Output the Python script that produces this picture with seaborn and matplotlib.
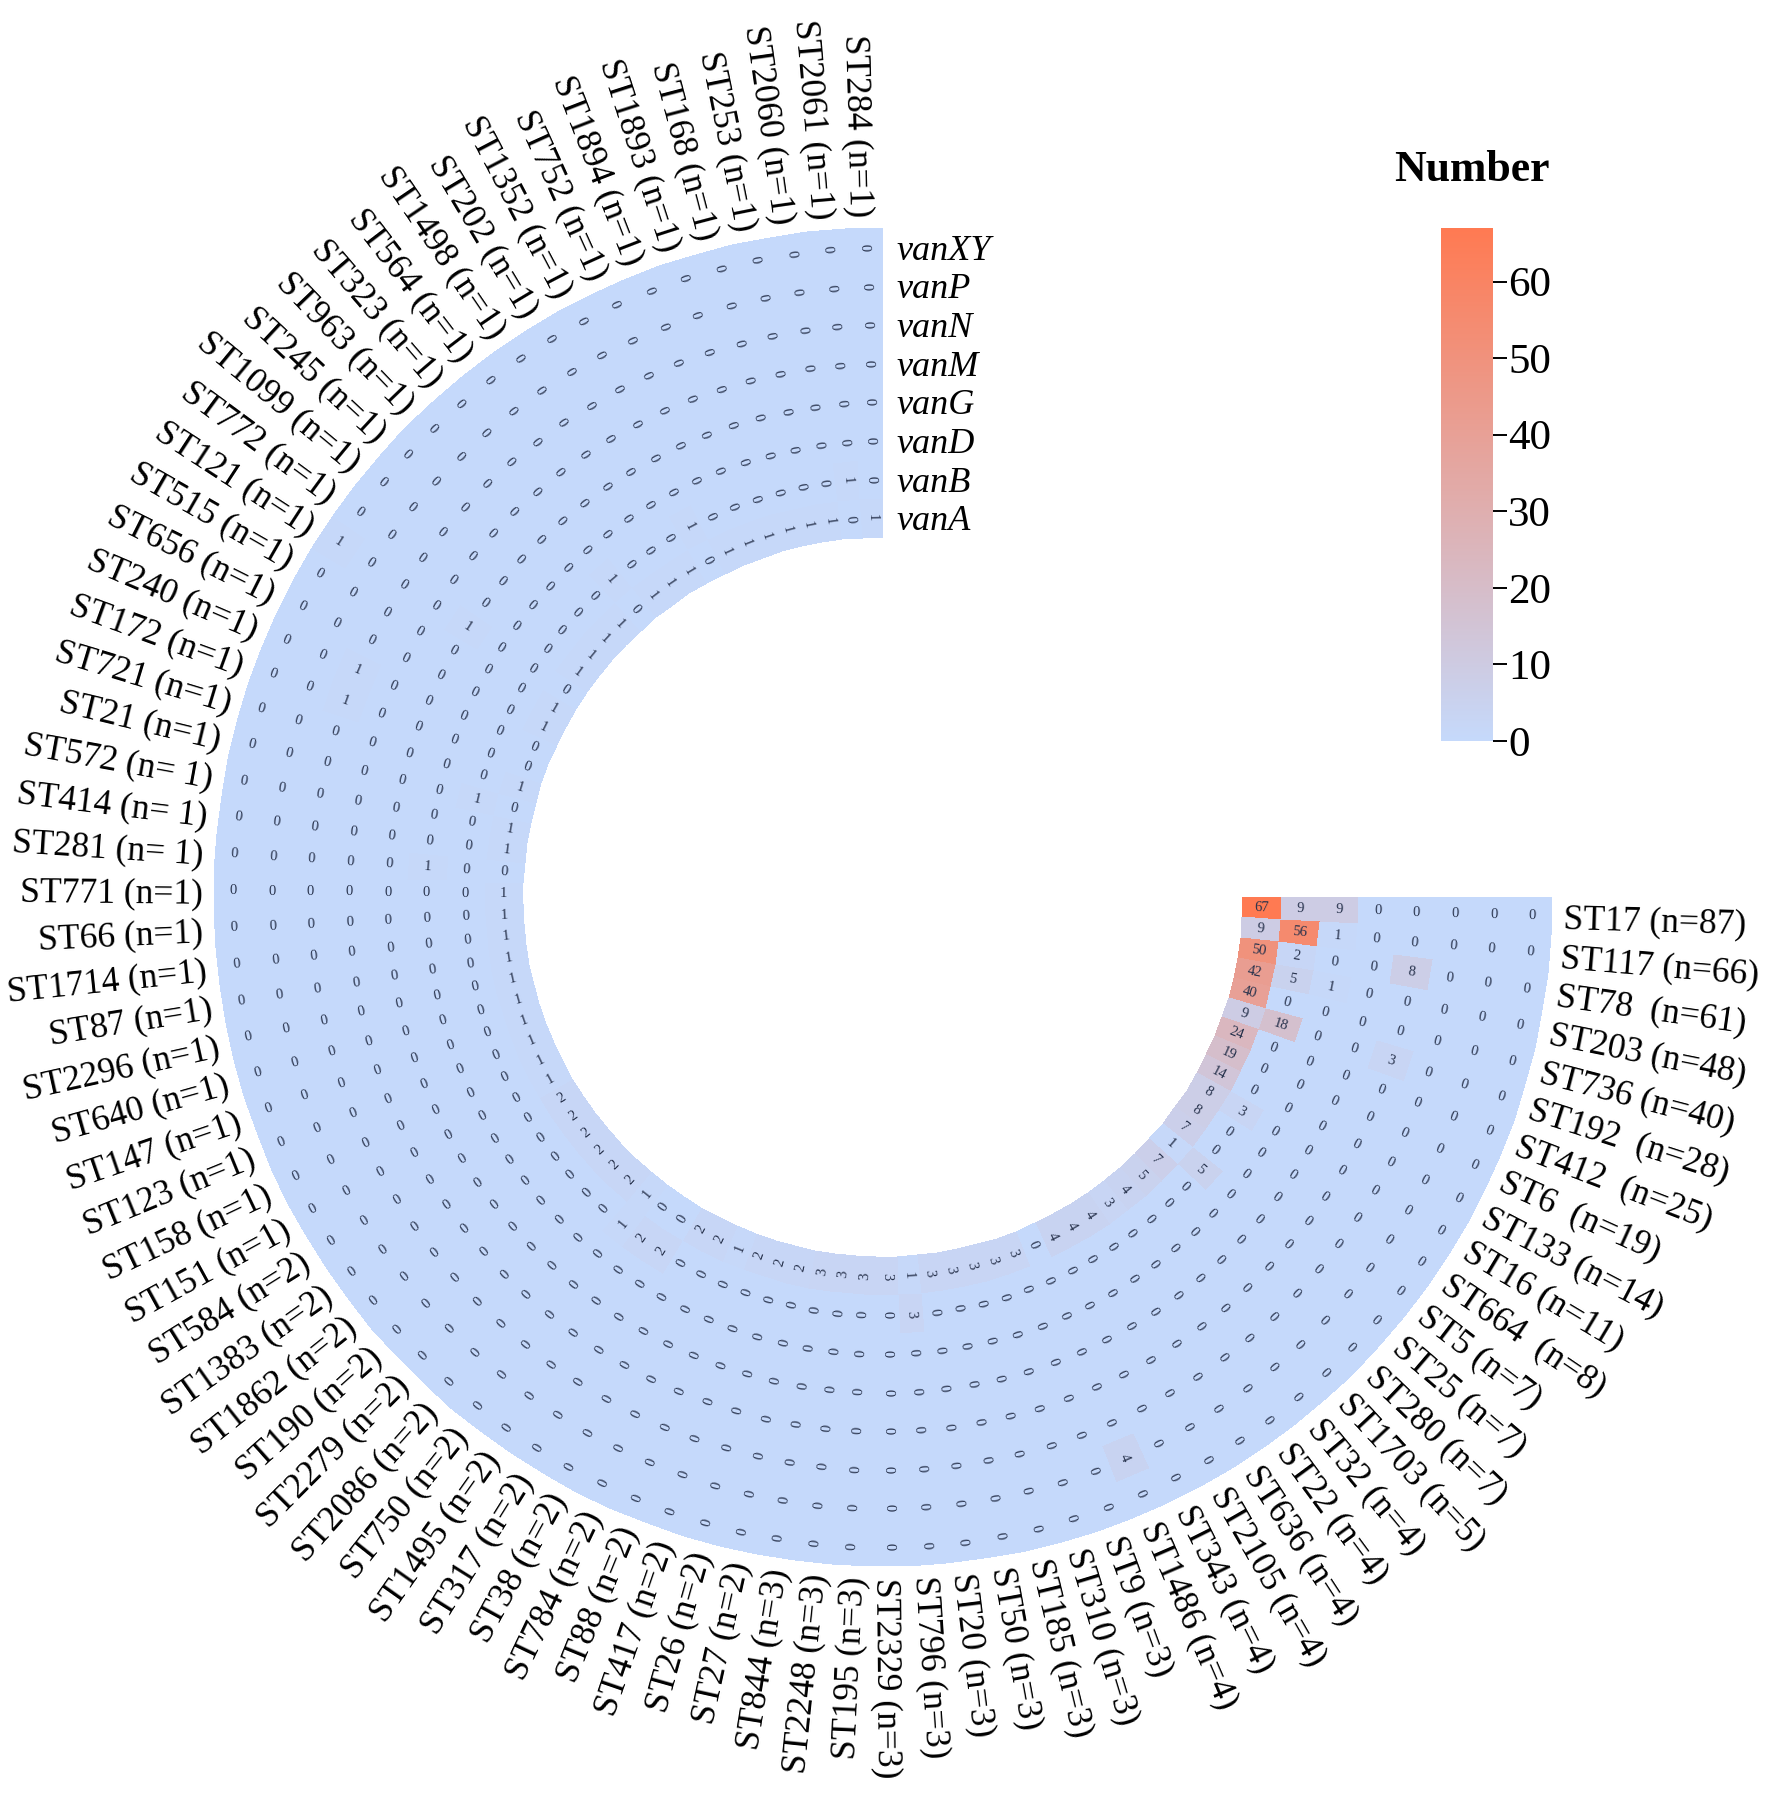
import numpy as np
import pandas as pd
import matplotlib
matplotlib.use('Agg')
import matplotlib.pyplot as plt
import matplotlib.transforms as mtransforms
from matplotlib.colors import LinearSegmentedColormap
import seaborn as sns

st_labels = [
    'ST17 (n=87)', 'ST117 (n=66)', 'ST78  (n=61)', 'ST203 (n=48)', 'ST736 (n=40)',
    'ST192  (n=28)', 'ST412  (n=25)', 'ST6  (n=19)', 'ST133 (n=14)', 'ST16 (n=11)',
    'ST664  (n=8)', 'ST5 (n=7)', 'ST25 (n=7)', 'ST280 (n=7)', 'ST1703 (n=5)',
    'ST32 (n=4)', 'ST22 (n=4)', 'ST636 (n=4)', 'ST2105 (n=4)', 'ST343 (n=4)',
    'ST1486 (n=4)', 'ST9 (n=3)', 'ST310 (n=3)', 'ST185 (n=3)', 'ST50 (n=3)',
    'ST20 (n=3)', 'ST796 (n=3)', 'ST2329 (n=3)', 'ST195 (n=3)', 'ST2248 (n=3)',
    'ST844 (n=3)', 'ST27 (n=2)', 'ST26 (n=2)', 'ST417 (n=2)', 'ST88 (n=2)',
    'ST784 (n=2)', 'ST38 (n=2)', 'ST317 (n=2)', 'ST1495 (n=2)', 'ST750 (n=2)',
    'ST2086 (n=2)', 'ST2279 (n=2)', 'ST190 (n=2)', 'ST1862 (n=2)', 'ST1383 (n=2)',
    'ST584 (n=2)', 'ST151 (n=1)', 'ST158 (n=1)', 'ST123 (n=1)', 'ST147 (n=1)',
    'ST640 (n=1)', 'ST2296 (n=1)', 'ST87 (n=1)', 'ST1714 (n=1)', 'ST66 (n=1)',
    'ST771 (n=1)', 'ST281 (n= 1)', 'ST414 (n= 1)', 'ST572 (n= 1)', 'ST21 (n=1)',
    'ST721 (n=1)', 'ST172 (n=1)', 'ST240 (n=1)', 'ST656 (n=1)', 'ST515 (n=1)',
    'ST121 (n=1)', 'ST772 (n=1)', 'ST1099 (n=1)', 'ST245 (n=1)', 'ST963 (n=1)',
    'ST323 (n=1)', 'ST564 (n=1)', 'ST1498 (n=1)', 'ST202 (n=1)', 'ST1352 (n=1)',
    'ST752 (n=1)', 'ST1894 (n=1)', 'ST1893 (n=1)', 'ST168 (n=1)', 'ST253 (n=1)',
    'ST2060 (n=1)', 'ST2061 (n=1)', 'ST284 (n=1)',
]

genes = ['vanA', 'vanB', 'vanD', 'vanG', 'vanM', 'vanN', 'vanP', 'vanXY']

van_a = [67, 9, 50, 42, 40, 9, 24, 19, 14, 8,
         8, 7, 1, 7, 5, 4, 3, 4, 4, 4,
         0, 3, 3, 3, 3, 3, 1, 3, 3, 3,
         3, 2, 2, 2, 1, 2, 2, 0, 0, 1,
         2, 2, 2, 2, 2, 2, 1, 1, 1, 1,
         1, 1, 1, 1, 1, 1, 0, 1, 1, 0,
         1, 0, 0, 1, 1, 0, 1, 1, 1, 1,
         0, 1, 1, 1, 0, 1, 1, 1, 1, 1,
         1, 0, 1]
van_b = [9, 56, 2, 5, 0, 18, 0, 0, 0, 3,
         0, 0, 5, 0, 0, 0, 0, 0, 0, 0,
         0, 0, 0, 0, 0, 0, 3, 0, 0, 0,
         0, 0, 0, 0, 0, 0, 0, 2, 2, 1,
         0, 0, 0, 0, 0, 0, 0, 0, 0, 0,
         0, 0, 0, 0, 0, 0, 0, 0, 0, 1,
         0, 0, 0, 0, 0, 0, 0, 0, 0, 0,
         1, 0, 0, 0, 1, 0, 0, 0, 0, 0,
         0, 1, 0]
van_d = [9, 1, 0, 1, 0, 0, 0, 0, 0, 0,
         0, 0, 0, 0, 0, 0, 0, 0, 0, 0,
         0, 0, 0, 0, 0, 0, 0, 0, 0, 0,
         0, 0, 0, 0, 0, 0, 0, 0, 0, 0,
         0, 0, 0, 0, 0, 0, 0, 0, 0, 0,
         0, 0, 0, 0, 0, 0, 1, 0, 0, 0,
         0, 0, 0, 0, 0, 0, 0, 0, 0, 0,
         0, 0, 0, 0, 0, 0, 0, 0, 0, 0,
         0, 0, 0]
van_g = [0, 0, 0, 0, 0, 0, 0, 0, 0, 0,
         0, 0, 0, 0, 0, 0, 0, 0, 0, 0,
         0, 0, 0, 0, 0, 0, 0, 0, 0, 0,
         0, 0, 0, 0, 0, 0, 0, 0, 0, 0,
         0, 0, 0, 0, 0, 0, 0, 0, 0, 0,
         0, 0, 0, 0, 0, 0, 0, 0, 0, 0,
         0, 0, 0, 0, 0, 1, 0, 0, 0, 0,
         0, 0, 0, 0, 0, 0, 0, 0, 0, 0,
         0, 0, 0]
van_m = [0, 0, 8, 0, 0, 3, 0, 0, 0, 0,
         0, 0, 0, 0, 0, 0, 0, 0, 0, 0,
         0, 0, 0, 0, 0, 0, 0, 0, 0, 0,
         0, 0, 0, 0, 0, 0, 0, 0, 0, 0,
         0, 0, 0, 0, 0, 0, 0, 0, 0, 0,
         0, 0, 0, 0, 0, 0, 0, 0, 0, 0,
         0, 0, 0, 0, 0, 0, 0, 0, 0, 0,
         0, 0, 0, 0, 0, 0, 0, 0, 0, 0,
         0, 0, 0]
van_n = [0, 0, 0, 0, 0, 0, 0, 0, 0, 0,
         0, 0, 0, 0, 0, 0, 0, 0, 0, 0,
         0, 0, 0, 0, 0, 0, 0, 0, 0, 0,
         0, 0, 0, 0, 0, 0, 0, 0, 0, 0,
         0, 0, 0, 0, 0, 0, 0, 0, 0, 0,
         0, 0, 0, 0, 0, 0, 0, 0, 0, 0,
         0, 1, 1, 0, 0, 0, 0, 0, 0, 0,
         0, 0, 0, 0, 0, 0, 0, 0, 0, 0,
         0, 0, 0]
van_p = [0, 0, 0, 0, 0, 0, 0, 0, 0, 0,
         0, 0, 0, 0, 0, 0, 0, 0, 0, 0,
         4, 0, 0, 0, 0, 0, 0, 0, 0, 0,
         0, 0, 0, 0, 0, 0, 0, 0, 0, 0,
         0, 0, 0, 0, 0, 0, 0, 0, 0, 0,
         0, 0, 0, 0, 0, 0, 0, 0, 0, 0,
         0, 0, 0, 0, 0, 0, 0, 0, 0, 0,
         0, 0, 0, 0, 0, 0, 0, 0, 0, 0,
         0, 0, 0]
van_xy = [0, 0, 0, 0, 0, 0, 0, 0, 0, 0,
          0, 0, 0, 0, 0, 0, 0, 0, 0, 0,
          0, 0, 0, 0, 0, 0, 0, 0, 0, 0,
          0, 0, 0, 0, 0, 0, 0, 0, 0, 0,
          0, 0, 0, 0, 0, 0, 0, 0, 0, 0,
          0, 0, 0, 0, 0, 0, 0, 0, 0, 0,
          0, 0, 0, 0, 0, 1, 0, 0, 0, 0,
          0, 0, 0, 0, 0, 0, 0, 0, 0, 0,
          0, 0, 0]

cbar_ticks = [0, 10, 20, 30, 40, 50, 60]

W, H = 1772, 1794
CX, CY = 883, 897
R_IN, R_OUT = 360, 669
RING = (R_OUT - R_IN) / len(genes)
STEP = np.radians(270 / len(st_labels))


class RingTransform(mtransforms.Transform):
    """(column, row) of the heatmap -> pixel position on the ring"""
    input_dims = 2
    output_dims = 2

    def transform_non_affine(self, values):
        values = np.asarray(values, dtype=float)
        theta = values[:, 0] * STEP
        r = R_IN + values[:, 1] * RING
        return np.column_stack((CX + r * np.cos(theta), CY + r * np.sin(theta)))


def radial_rotation(col):
    deg = np.degrees(col * STEP)
    return -deg if deg < 90 else 180 - deg


df = pd.DataFrame([van_a, van_b, van_d, van_g, van_m, van_n, van_p, van_xy],
                  index=genes, columns=st_labels)

sns.set_theme(style='white')
plt.rcParams['font.family'] = ['Liberation Serif', 'DejaVu Serif']

cmap = LinearSegmentedColormap.from_list('number', ['#C5D9FB', '#FF7A52'])

fig = plt.figure(figsize=(W / 100, H / 100), dpi=100, facecolor='white')
ax = fig.add_axes([0, 0, 1, 1])
cax = fig.add_axes([1441 / W, 1 - 741 / H, 52 / W, 513 / H])

ring = RingTransform() + ax.transData

sns.heatmap(df, ax=ax, cmap=cmap, vmin=0, vmax=67, annot=True, fmt='d',
            annot_kws={'fontsize': 10.5, 'color': '#27324c', 'transform': ring},
            cbar_ax=cax, cbar_kws={'ticks': cbar_ticks},
            xticklabels=False, yticklabels=False, transform=ring)

for t in ax.texts:
    t.set_rotation(radial_rotation(t.get_position()[0]))
    t.set_rotation_mode('anchor')

ax.set_xlim(0, W)
ax.set_ylim(H, 0)
ax.axis('off')

# ST labels round the outside
for i, name in enumerate(st_labels):
    col = i + 0.5
    deg = np.degrees(col * STEP)
    ax.text(col, len(genes) + 0.3, name, transform=ring, fontsize=25.6, color='black',
            rotation=radial_rotation(col), rotation_mode='anchor',
            ha='left' if deg < 90 else 'right', va='center_baseline')

# gene labels at the open end of the ring
for i, gene in enumerate(genes):
    ax.annotate(gene, xy=(len(st_labels), i + 0.5), xycoords=ring,
                xytext=(14, 0), textcoords='offset pixels', fontsize=26,
                style='italic', color='black', ha='left', va='center_baseline')

cax.tick_params(length=10, width=1.4, labelsize=31, pad=1, right=True, color='black',
                labelcolor='black')
fig.text(1472 / W, 1 - 170 / H, 'Number', fontsize=31.5, fontweight='bold',
         ha='center', va='center', color='black')

fig.savefig('out.png', dpi=100, facecolor='white')
